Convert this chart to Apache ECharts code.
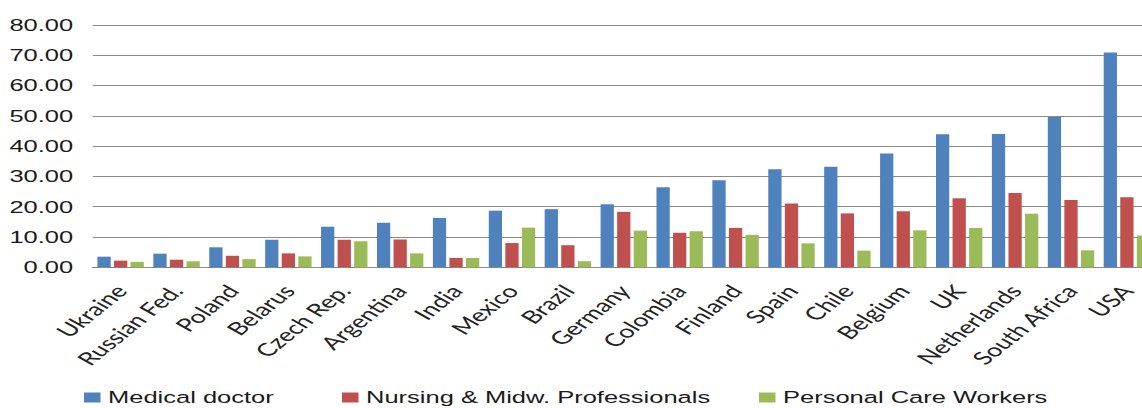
<!DOCTYPE html>
<html>
<head>
<meta charset="utf-8">
<script src="https://cdn.jsdelivr.net/npm/echarts@6/dist/echarts.min.js"></script>
<style>
  html, body { margin: 0; padding: 0; background: #ffffff; overflow: hidden; width: 1142px; height: 408px; }
  #chart { width: 800px; height: 408px; transform: scaleX(1.5); transform-origin: 0 0; }
</style>
</head>
<body>
<div id="chart"></div>
<script>
const categories = ['Ukraine', 'Russian Fed.', 'Poland', 'Belarus', 'Czech Rep.', 'Argentina', 'India', 'Mexico', 'Brazil', 'Germany', 'Colombia', 'Finland', 'Spain', 'Chile', 'Belgium', 'UK', 'Netherlands', 'South Africa', 'USA'];
const medicalDoctor = [3.5, 4.5, 6.6, 9.1, 13.4, 14.7, 16.3, 18.7, 19.2, 20.8, 26.4, 28.7, 32.4, 33.2, 37.6, 43.9, 44.0, 49.6, 70.9];
const nursingMidw = [2.2, 2.5, 3.8, 4.6, 9.1, 9.2, 3.1, 8.0, 7.3, 18.3, 11.4, 13.0, 21.1, 17.8, 18.5, 22.8, 24.5, 22.2, 23.1];
const personalCare = [1.8, 2.0, 2.7, 3.6, 8.6, 4.6, 3.1, 13.1, 2.0, 12.1, 11.9, 10.7, 7.9, 5.5, 12.2, 13.0, 17.7, 5.6, 10.5];
const seriesNames = ['Medical doctor', 'Nursing & Midw. Professionals', 'Personal Care Workers'];
const yTickLabels = ['0.00', '10.00', '20.00', '30.00', '40.00', '50.00', '60.00', '70.00', '80.00'];

const colors = ['#4f81bd', '#c0504d', '#9bbb59'];
const chart = echarts.init(document.getElementById('chart'), null, { renderer: 'svg' });

const legendBase = {
  orient: 'horizontal',
  top: 389,
  padding: 0,
  itemWidth: 11,
  itemHeight: 10,
  icon: 'rect',
  textStyle: { fontFamily: 'Liberation Sans, Arial, sans-serif', fontSize: 17, color: '#1a1a1a' }
};

chart.setOption({
  animation: false,
  color: colors,
  legend: [
    Object.assign({}, legendBase, { left: 56, data: [seriesNames[0]] }),
    Object.assign({}, legendBase, { left: 228, data: [seriesNames[1]] }),
    Object.assign({}, legendBase, { left: 506, data: [seriesNames[2]] })
  ],
  grid: { left: 61.8, top: 25, width: 708.1, height: 242.3, containLabel: false },
  xAxis: {
    type: 'category',
    data: categories,
    axisLine: { show: true, lineStyle: { color: '#8a8a8a', width: 1.2 } },
    axisTick: { show: false },
    axisLabel: {
      interval: 0,
      rotate: 50,
      margin: 20,
      fontFamily: 'Lato, sans-serif',
      fontSize: 18,
      color: '#222222'
    }
  },
  yAxis: {
    type: 'value',
    min: 0,
    max: 80,
    interval: 10,
    axisLine: { show: false },
    axisTick: { show: false },
    splitLine: { lineStyle: { color: '#8a8a8a', width: 1.2 } },
    axisLabel: {
      margin: 13,
      fontFamily: 'Liberation Sans, Arial, sans-serif',
      fontSize: 17,
      color: '#1a1a1a',
      formatter: function (v) { return yTickLabels[Math.round(v / 10)]; }
    }
  },
  series: [
    { name: seriesNames[0], type: 'bar', data: medicalDoctor, barGap: '25%', barCategoryGap: '17%' },
    { name: seriesNames[1], type: 'bar', data: nursingMidw, barGap: '25%', barCategoryGap: '17%' },
    { name: seriesNames[2], type: 'bar', data: personalCare, barGap: '25%', barCategoryGap: '17%' }
  ]
});
</script>
</body>
</html>
